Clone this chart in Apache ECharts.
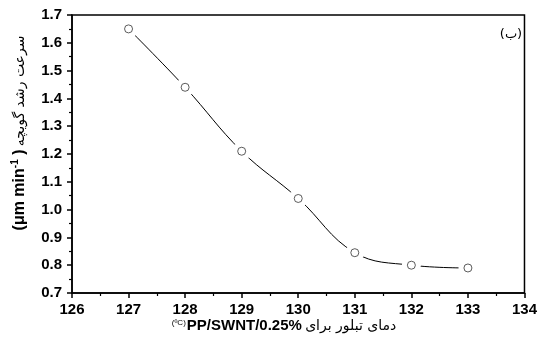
<!DOCTYPE html>
<html>
<head>
<meta charset="utf-8">
<script src="https://cdn.jsdelivr.net/npm/echarts@6/dist/echarts.min.js"></script>
<style>
html,body{margin:0;padding:0;background:#fff;}
#chart{width:540px;height:346px;}
</style>
</head>
<body>
<div id="chart"></div>
<script>
// Data
const temperatures = [127, 128, 129, 130, 131, 132, 133];
const growthRates = [1.65, 1.44, 1.21, 1.04, 0.845, 0.80, 0.79];
const xTicks = [126, 127, 128, 129, 130, 131, 132, 133, 134];
const yTicks = [0.7, 0.8, 0.9, 1.0, 1.1, 1.2, 1.3, 1.4, 1.5, 1.6, 1.7];
const yTitleFa = 'سرعت رشد گویچه';
const yTitleUnit = '(μm min';
const yTitleSup = '-1';
const xTitleFa = 'دمای تبلور برای';
const xTitleSample = 'PP/SWNT/0.25%';
const xTitleUnit = '(ºC)';
const panelLabel = '(ب)';

const pts = temperatures.map((t, i) => [t, growthRates[i]]);
const chart = echarts.init(document.getElementById('chart'));
const tickFont = {color: '#000', fontFamily: 'Arial, Liberation Sans, sans-serif', fontWeight: 900, fontSize: 15};

chart.setOption({
  animation: false,
  backgroundColor: '#fff',
  grid: {left: 72, right: 13, top: 15, bottom: 53, show: true, borderColor: '#000', borderWidth: 1.5, backgroundColor: 'transparent'},
  xAxis: {
    type: 'value', min: xTicks[0], max: xTicks[xTicks.length - 1], interval: 1,
    axisLine: {show: true, lineStyle: {color: '#000', width: 1.5}},
    axisTick: {show: true, inside: false, length: 5, lineStyle: {color: '#000', width: 1.5}},
    minorTick: {show: true, splitNumber: 2, length: 3, lineStyle: {color: '#000', width: 1.2}},
    splitLine: {show: false},
    axisLabel: Object.assign({margin: 9}, tickFont)
  },
  yAxis: {
    type: 'value', min: yTicks[0], max: yTicks[yTicks.length - 1], interval: 0.1,
    axisLine: {show: true, lineStyle: {color: '#000', width: 1.5}},
    axisTick: {show: true, inside: false, length: 5, lineStyle: {color: '#000', width: 1.5}},
    minorTick: {show: true, splitNumber: 2, length: 3, lineStyle: {color: '#000', width: 1.2}},
    splitLine: {show: false},
    axisLabel: Object.assign({margin: 10, formatter: v => v.toFixed(1)}, tickFont)
  },
  series: [
    {type: 'line', data: pts, smooth: 0.4, showSymbol: false, lineStyle: {color: '#000', width: 1}, z: 1, zlevel: 0},
    {type: 'scatter', data: pts, symbol: 'circle', symbolSize: 19, itemStyle: {color: '#fff', opacity: 1}, z: 5, zlevel: 0},
    {type: 'scatter', data: pts, symbol: 'circle', symbolSize: 8, itemStyle: {color: '#fff', borderColor: '#333', borderWidth: 1}, z: 6, zlevel: 0}
  ],
  graphic: [
    {
      type: 'text', x: 20, y: 133, rotation: Math.PI / 2,
      style: {
        text: '{u|' + yTitleUnit + '}{s|' + yTitleSup + '}{u| )} {f|' + yTitleFa + '}',
        align: 'center', verticalAlign: 'middle',
        rich: {
          u: {fontFamily: 'Arial, Liberation Sans, sans-serif', fontWeight: 900, fontSize: 16, fill: '#000', lineHeight: 18},
          s: {fontFamily: 'Arial, Liberation Sans, sans-serif', fontWeight: 'bold', fontSize: 10, fill: '#000', lineHeight: 18, padding: [0, 0, 9, 0]},
          f: {fontFamily: 'DejaVu Sans, sans-serif', fontSize: 14, fill: '#000', lineHeight: 18}
        }
      }
    },
    {
      type: 'text', x: 284, y: 326,
      style: {
        text: '{s|' + xTitleUnit + '}{b|' + xTitleSample + '} {f|' + xTitleFa + '}',
        align: 'center', verticalAlign: 'middle',
        rich: {
          s: {fontFamily: 'Arial, Liberation Sans, sans-serif', fontSize: 8, fill: '#000', lineHeight: 18, padding: [0, 1, 6, 0]},
          b: {fontFamily: 'Arial, Liberation Sans, sans-serif', fontWeight: 900, fontSize: 15, fill: '#000', lineHeight: 18},
          f: {fontFamily: 'DejaVu Sans, sans-serif', fontSize: 14, fill: '#000', lineHeight: 18}
        }
      }
    },
    {
      type: 'text', x: 511, y: 35,
      style: {text: panelLabel, align: 'center', verticalAlign: 'middle', fontFamily: 'DejaVu Sans, sans-serif', fontSize: 13, fill: '#000'}
    }
  ]
});
</script>
</body>
</html>
